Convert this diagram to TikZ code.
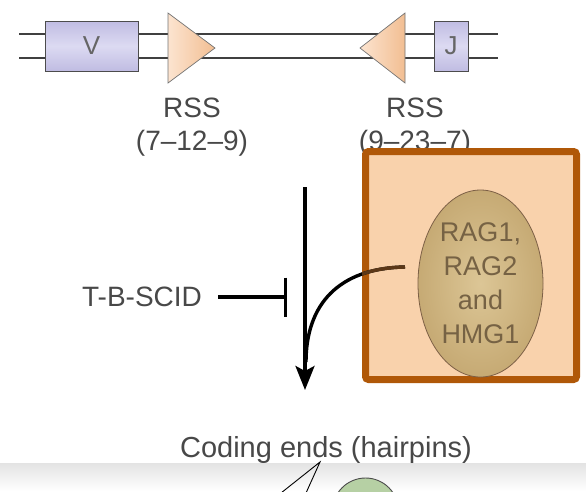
\documentclass[tikz,border=0pt]{standalone}
\usepackage{fontspec}
\setmainfont{Liberation Sans}
\usetikzlibrary{shapes.geometric, arrows.meta, positioning}

\definecolor{segfill}{RGB}{192,188,226}
\definecolor{segmid}{RGB}{220,218,242}
\definecolor{rssdark}{RGB}{242,190,146}
\definecolor{rsslight}{RGB}{252,228,208}
\definecolor{boxedge}{RGB}{176,88,8}
\definecolor{boxfill}{RGB}{249,210,172}
\definecolor{ragfill}{RGB}{198,170,116}
\definecolor{raglight}{RGB}{220,198,150}
\definecolor{ragtext}{RGB}{118,98,68}
\definecolor{curvebrown}{RGB}{92,56,24}
\definecolor{hairgreen}{RGB}{182,208,164}
\definecolor{textgray}{RGB}{72,72,72}

\tikzset{
    segment/.style={
        rectangle, draw=black!70, line width=0.9pt, inner sep=0pt, top color=segfill, bottom color=segfill, middle color=segmid, text=black!60, font=\fontsize{26}{30}\selectfont
    },
    rssend/.style={
        draw=black!55, line width=0.7pt, left color=rsslight, right color=rssdark
    },
    txt/.style={
        text=textgray, align=center, inner sep=0pt, font=\fontsize{28}{33}\selectfont
    },
    flow/.style={
        line width=3.4pt, -{Stealth[length=24pt, width=19pt, inset=5pt]}
    },
    inhibit/.style={
        line width=3.4pt, -{Bar[width=39pt]}
    },
    strand/.style={
        line width=1.1pt, black!75
    }
}

\begin{document}
\begin{tikzpicture}[x=1pt, y=-1pt]

    \useasboundingbox (0,0) rectangle (586,491);
    \clip (0,0) rectangle (586,491);

    % Bottom band
    \shade[top color=black!11, bottom color=white] (0,463) rectangle (586,491);

    % DNA strands
    \draw[strand] (19,34) -- (498,34);
    \draw[strand] (19,58) -- (498,58);

    % Gene segments
    \node[segment, minimum width=93pt, minimum height=50pt] (vseg) at (91.5,46) {V};
    \node[segment, minimum width=34pt, minimum height=50pt] (jseg) at (451,46) {J};

    % Signal sequences
    \draw[rssend] (168,13) -- (215,48) -- (168,83) -- cycle;
    \draw[rssend] (405,13) -- (360,48) -- (405,83) -- cycle;
    \node[txt] (rssa) at (192,127) {RSS\\(7–12–9)};
    \node[txt] (rssb) at (415,127) {RSS\\(9–23–7)};

    % Recombination step
    \coordinate (flowtop) at (305,187);
    \coordinate (flowend) at (305,390);
    \draw[flow] (flowtop) -- (flowend);

    \node[txt] (scid) at (142,297) {T-B-SCID};
    \coordinate (block) at (287,297);
    \draw[inhibit, shorten <=16pt] (scid.east) -- (block);

    % Enzyme panel
    \node[draw=boxedge, line width=7pt, rounded corners=3pt, fill=boxfill, minimum width=211pt, minimum height=228pt] (panel) at (471,265.5) {};
    \node[ellipse, draw=curvebrown!80, line width=0.8pt, inner color=raglight, outer color=ragfill, minimum width=125pt, minimum height=187pt, inner sep=0pt] (rag) at (480.5,283.5) {};
    \node[txt, text=ragtext, font=\fontsize{27}{34}\selectfont] (ragtxt) at (rag) {RAG1,\\RAG2\\and\\HMG1};

    \coordinate (ragout) at (405,267);
    \draw[line width=3.4pt] (ragout) .. controls (338,268) and (306,305) .. (306,362);
    \begin{scope}
        \clip (panel.north west) rectangle (panel.south east);
        \draw[line width=3.4pt, curvebrown] (ragout) .. controls (338,268) and (306,305) .. (306,362);
    \end{scope}

    % Coding ends
    \node[txt, font=\fontsize{29}{33}\selectfont] (coding) at (326,450) {Coding ends (hairpins)};
    \coordinate (hptip) at (320,462);
    \coordinate (hpa) at (281,493);
    \coordinate (hpb) at (306,493);
    \draw[line width=0.9pt] (hpa) -- (hptip) -- (hpb);
    \node[circle, draw=black!70, line width=0.9pt, fill=hairgreen, minimum size=66pt, inner sep=0pt] (hairpin) at (365.5,511) {};

\end{tikzpicture}
\end{document}
